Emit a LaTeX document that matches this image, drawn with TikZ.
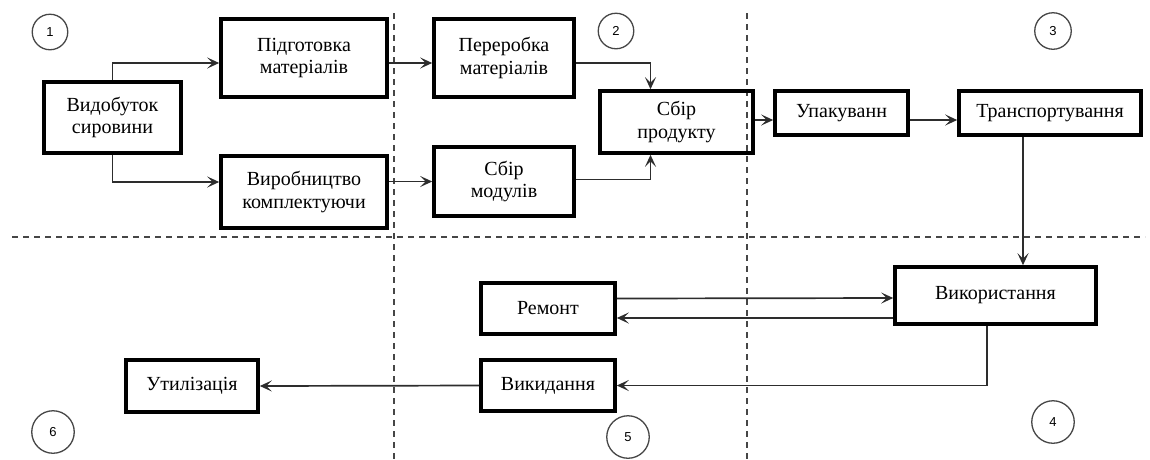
\documentclass[tikz,border=0pt]{standalone}
\usepackage{fontspec}
\setmainfont{Liberation Serif}
\newfontfamily\stagefont{Liberation Serif}
\newfontfamily\numfont{Liberation Sans}
\usetikzlibrary{arrows.meta,positioning}
\definecolor{linkgray}{RGB}{45,45,45}
\definecolor{zonegray}{RGB}{70,70,70}

\begin{document}
\begin{tikzpicture}[
    x=1pt, y=-1pt,
    stage/.style={draw, line width=3.6pt, align=center, inner sep=2pt, font=\stagefont\fontsize{20}{22.5}\selectfont},
    phase/.style={circle, draw=zonegray, line width=1.3pt, inner sep=0pt, font=\numfont\fontsize{13}{13}\selectfont},
    zone/.style={zonegray, line width=1.2pt, dash pattern=on 6pt off 5pt},
    link/.style={->, line width=1.7pt, linkgray},
    >={Stealth[length=12pt, width=11pt, inset=5.5pt]}
]
\useasboundingbox (0,0) rectangle (1150,459);

% zones
\draw[zone] (394,13) -- (394,459);
\draw[zone] (747,13) -- (747,459);
\draw[zone] (12,237) -- (1145,237);

\node[phase, minimum size=35.5pt] (ph1) at (50,32) {1};
\node[phase, minimum size=35.5pt] (ph2) at (616,31) {2};
\node[phase, minimum size=36.5pt] (ph3) at (1053,31) {3};
\node[phase, minimum size=42.5pt] (ph4) at (1053,422) {4};
\node[phase, minimum size=42.5pt] (ph5) at (628,437) {5};
\node[phase, minimum size=42.5pt] (ph6) at (53,432) {6};

% stages
\node[stage, minimum width=137pt, minimum height=71pt] (mining) at (112.5,117.5) {Видобуток\\сировини};
\node[stage, minimum width=166pt, minimum height=78pt] (prep) at (304,58) {Підготовка\\матеріалів};
\node[stage, minimum width=166pt, minimum height=72pt] (parts) at (304,192) {Виробництво\\комплектуючи};
\node[stage, minimum width=140pt, minimum height=78pt] (process) at (504,58) {Переробка\\матеріалів};
\node[stage, minimum width=140pt, minimum height=69pt] (modules) at (504,181.5) {Сбір\\модулів};
\node[stage, minimum width=153pt, minimum height=62pt] (product) at (676.5,122) {Сбір\\продукту};
\node[stage, minimum width=133pt, minimum height=44pt] (pack) at (841.5,113) {Упакуванн};
\node[stage, minimum width=182pt, minimum height=44pt] (transport) at (1050,113) {Транспортування};
\node[stage, minimum width=201pt, minimum height=57pt] (usage) at (995.5,295.5) {Використання};
\node[stage, minimum width=134pt, minimum height=51pt] (repair) at (548,308.5) {Ремонт};
\node[stage, minimum width=134pt, minimum height=51pt] (dispose) at (548,385.5) {Викидання};
\node[stage, minimum width=132pt, minimum height=52pt] (recycle) at (192,386) {Утилізація};

% links
\draw[link] (mining.north) |- ([yshift=-5pt]prep.west);
\draw[link] (mining.south) |- ([yshift=10pt]parts.west);
\draw[link] ([yshift=-5pt]prep.east) -- ([yshift=-5pt]process.west);
\draw[link] (parts.east |- modules.west) -- (modules.west);
\draw[link] ([yshift=-5pt]process.east) -| ([xshift=-26pt]product.north);
\draw[link] ([yshift=2pt]modules.east) -| ([xshift=-26pt]product.south);
\draw[link] ([yshift=2pt]product.east) -- ([yshift=-7pt]pack.west);
\draw[link] ([yshift=-7pt]pack.east) -- ([yshift=-7pt]transport.west);
\coordinate (drop) at ([xshift=-27pt]transport.south);
\draw[link] (drop) -- (drop |- usage.north);
\draw[link] ([yshift=10pt]repair.east) -- ([yshift=-2.5pt]usage.west);
\draw[link] ([yshift=-22.5pt]usage.west) -- ([yshift=-9.5pt]repair.east);
\draw[link] ([xshift=-8.5pt]usage.south) |- (dispose.east);
\draw[link] (dispose.west) -- (recycle.east);
\end{tikzpicture}
\end{document}
